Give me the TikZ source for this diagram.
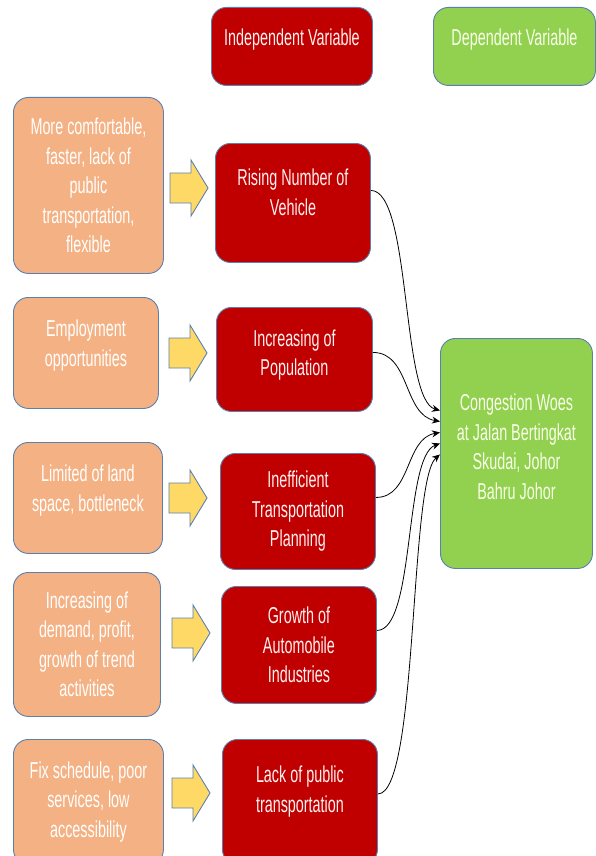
\documentclass[tikz,border=0pt]{standalone}
\usepackage{fontspec}
\setmainfont{Liberation Sans}[FakeStretch=0.625]
\usetikzlibrary{arrows.meta}
\definecolor{redc}{HTML}{C00000}
\definecolor{orc}{HTML}{F4B183}
\definecolor{grc}{HTML}{92D050}
\definecolor{yelc}{HTML}{FFD966}
\definecolor{bordc}{HTML}{5B80AE}
\definecolor{redtext}{HTML}{FFF0F0}
\definecolor{grtext}{HTML}{F8FFE8}
\newcommand\barrow[2]{\filldraw[blockarrow] (#1,-#2+15) -- (#1+21,-#2+15) -- (#1+21,-#2+28) -- (#1+38,-#2) -- (#1+21,-#2-28) -- (#1+21,-#2-15) -- (#1,-#2-15) -- cycle;}
\tikzset{
  box/.style={draw=bordc, line width=0.9pt, rounded corners=15pt, align=center, inner sep=2pt, anchor=north west, font=\fontsize{23}{29.5}\selectfont},
  redbox/.style={box, fill=redc, text=redtext},
  orbox/.style={box, fill=orc, text=white},
  grbox/.style={box, fill=grc, text=grtext},
  blockarrow/.style={draw=bordc, fill=yelc, line width=0.9pt},
  conn/.style={draw=black, line width=0.8pt, -{Stealth[length=8pt,width=7pt]}}
}
\begin{document}
\begin{tikzpicture}[x=1pt,y=1pt]
\useasboundingbox (0,0) rectangle (595,-856);
% headers
\node[redbox, minimum width=161pt, minimum height=78pt, text depth=18pt] (ind) at (211,-7) {Independent Variable};
\node[grbox, minimum width=162pt, minimum height=78pt, text depth=18pt] (dep) at (433,-7) {Dependent Variable};
% left causes
\node[orbox, minimum width=150pt, minimum height=176pt] (o1) at (13,-97) {More comfortable,\\ faster, lack of\\ public\\ transportation,\\ flexible};
\node[orbox, minimum width=145pt, minimum height=111pt, text depth=20pt] (o2) at (13,-297) {Employment\\ opportunities};
\node[orbox, minimum width=149pt, minimum height=111pt, text depth=20pt] (o3) at (13,-442) {Limited of land\\ space, bottleneck};
\node[orbox, minimum width=147pt, minimum height=144pt] (o4) at (13,-572) {Increasing of\\ demand, profit,\\ growth of trend\\ activities};
\node[orbox, minimum width=150pt, minimum height=125pt] (o5) at (13,-739) {Fix schedule, poor\\ services, low\\ accessibility};
% independent variables
\node[redbox, minimum width=155pt, minimum height=119pt, text depth=22pt] (r1) at (215,-143) {Rising Number of\\ Vehicle};
\node[redbox, minimum width=156pt, minimum height=104pt, text depth=14pt] (r2) at (216,-307) {Increasing of\\ Population};
\node[redbox, minimum width=155pt, minimum height=116pt] (r3) at (220,-453) {Inefficient\\ Transportation\\ Planning};
\node[redbox, minimum width=155pt, minimum height=117pt] (r4) at (221,-586) {Growth of\\ Automobile\\ Industries};
\node[redbox, minimum width=155pt, minimum height=125pt, text depth=26pt] (r5) at (222,-739) {Lack of public\\ transportation};
% dependent variable
\node[grbox, minimum width=152pt, minimum height=230pt, text depth=14pt] (g) at (440,-338) {Congestion Woes\\ at Jalan Bertingkat\\ Skudai, Johor\\ Bahru Johor};
% block arrows
\barrow{170}{188}
\barrow{169}{353}
\barrow{169}{498}
\barrow{172}{633}
\barrow{172}{793}
% connector ends on the dependent box
\coordinate (t1) at ([yshift=43pt]g.west);
\coordinate (t2) at ([yshift=32pt]g.west);
\coordinate (t3) at ([yshift=21pt]g.west);
\coordinate (t4) at ([yshift=10pt]g.west);
\coordinate (t5) at ([yshift=-1pt]g.west);
\draw[conn] ([yshift=12.5pt]r1.east) to[out=0,in=165,looseness=0.45] (t1);
\draw[conn] ([yshift=7pt]r2.east) to[out=0,in=170,looseness=1] (t2);
\draw[conn] ([yshift=14pt]r3.east) to[out=0,in=190,looseness=1] (t3);
\draw[conn] ([yshift=14.5pt]r4.east) to[out=0,in=200,looseness=0.5] (t4);
\draw[conn] ([yshift=8pt]r5.east) to[out=0,in=220,looseness=0.3] (t5);
\end{tikzpicture}
\end{document}
